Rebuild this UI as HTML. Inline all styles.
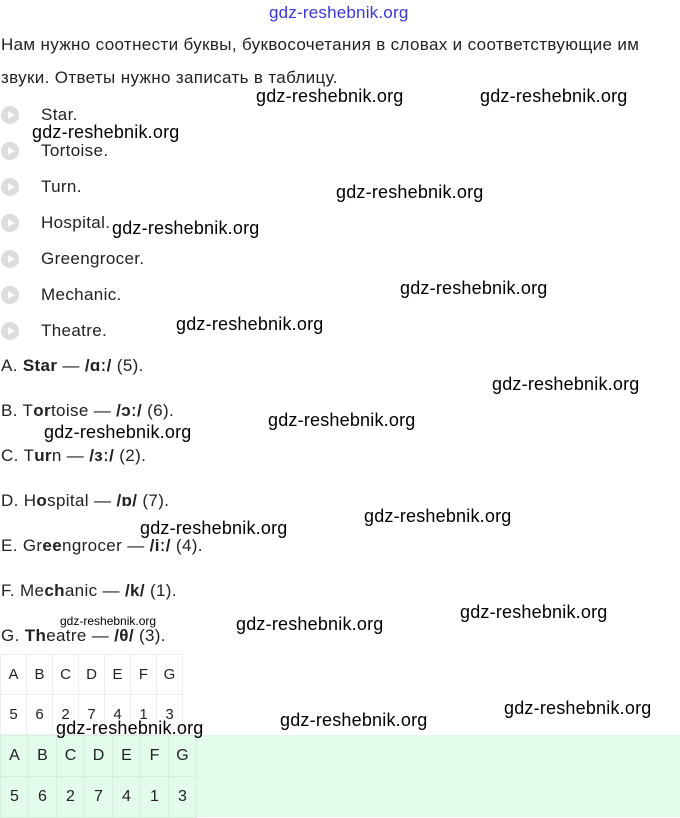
<!DOCTYPE html><html><head><meta charset="utf-8"><style>
body{margin:0;width:680px;height:817px;background:#fff;position:relative;overflow:hidden;font-family:"Liberation Sans",sans-serif;color:#222}
.t{position:absolute;font-size:17px;line-height:20px;white-space:nowrap;letter-spacing:0.35px}
.w{position:absolute;font-size:18px;line-height:20px;color:#000;white-space:nowrap;font-family:"Liberation Sans",sans-serif;letter-spacing:0.2px}
.b{position:absolute;left:1px;width:18px;height:18px;border-radius:50%;background:#ddd}
.b:after{content:"";position:absolute;left:7px;top:5px;border-left:7px solid #fff;border-top:4px solid transparent;border-bottom:4px solid transparent}
table{position:absolute;border-collapse:collapse;font-size:15px}
td{border:1px solid #eee;text-align:center;padding:0}
</style></head><body>
<div class="w" style="left:269px;top:3px;color:#3838d8;font-size:17px">gdz-reshebnik.org</div>
<div class="t" style="left:1px;top:35px">Нам нужно соотнести буквы, буквосочетания в словах и соответствующие им</div>
<div class="t" style="left:1px;top:68px">звуки. Ответы нужно записать в таблицу.</div>
<div class="b" style="top:106px"></div><div class="t" style="left:41px;top:105px">Star.</div>
<div class="b" style="top:142px"></div><div class="t" style="left:41px;top:141px">Tortoise.</div>
<div class="b" style="top:178px"></div><div class="t" style="left:41px;top:177px">Turn.</div>
<div class="b" style="top:214px"></div><div class="t" style="left:41px;top:213px">Hospital.</div>
<div class="b" style="top:250px"></div><div class="t" style="left:41px;top:249px">Greengrocer.</div>
<div class="b" style="top:286px"></div><div class="t" style="left:41px;top:285px">Mechanic.</div>
<div class="b" style="top:322px"></div><div class="t" style="left:41px;top:321px">Theatre.</div>
<div class="t" style="left:1px;top:356px">A. <b>Star</b> — <b>/ɑː/</b> (5).</div>
<div class="t" style="left:1px;top:401px">B. T<b>or</b>toise — <b>/ɔː/</b> (6).</div>
<div class="t" style="left:1px;top:446px">C. T<b>ur</b>n — <b>/ɜː/</b> (2).</div>
<div class="t" style="left:1px;top:491px">D. H<b>o</b>spital — <b>/ɒ/</b> (7).</div>
<div class="t" style="left:1px;top:536px">E. Gr<b>ee</b>ngrocer — <b>/iː/</b> (4).</div>
<div class="t" style="left:1px;top:581px">F. Me<b>ch</b>anic — <b>/k/</b> (1).</div>
<div class="t" style="left:1px;top:626px">G. <b>Th</b>eatre — <b>/θ/</b> (3).</div>
<table style="left:0;top:654px"><tr style="height:40px"><td style="width:25px">A</td><td style="width:25px">B</td><td style="width:25px">C</td><td style="width:25px">D</td><td style="width:25px">E</td><td style="width:25px">F</td><td style="width:25px">G</td></tr><tr style="height:40px"><td>5</td><td>6</td><td>2</td><td>7</td><td>4</td><td>1</td><td>3</td></tr></table>
<div style="position:absolute;left:0;top:735px;width:680px;height:82px;background:#e3fbea"></div>
<table style="left:0;top:735px;font-size:16px"><tr style="height:41px"><td style="width:27px;border-color:#d6eedc">A</td><td style="width:27px;border-color:#d6eedc">B</td><td style="width:27px;border-color:#d6eedc">C</td><td style="width:27px;border-color:#d6eedc">D</td><td style="width:27px;border-color:#d6eedc">E</td><td style="width:27px;border-color:#d6eedc">F</td><td style="width:27px;border-color:#d6eedc">G</td></tr><tr style="height:41px"><td style="border-color:#d6eedc">5</td><td style="border-color:#d6eedc">6</td><td style="border-color:#d6eedc">2</td><td style="border-color:#d6eedc">7</td><td style="border-color:#d6eedc">4</td><td style="border-color:#d6eedc">1</td><td style="border-color:#d6eedc">3</td></tr></table>
<div class="w" style="left:256px;top:86px">gdz-reshebnik.org</div>
<div class="w" style="left:480px;top:86px">gdz-reshebnik.org</div>
<div class="w" style="left:32px;top:122px">gdz-reshebnik.org</div>
<div class="w" style="left:336px;top:182px">gdz-reshebnik.org</div>
<div class="w" style="left:112px;top:218px">gdz-reshebnik.org</div>
<div class="w" style="left:400px;top:278px">gdz-reshebnik.org</div>
<div class="w" style="left:176px;top:314px">gdz-reshebnik.org</div>
<div class="w" style="left:492px;top:374px">gdz-reshebnik.org</div>
<div class="w" style="left:268px;top:410px">gdz-reshebnik.org</div>
<div class="w" style="left:44px;top:422px">gdz-reshebnik.org</div>
<div class="w" style="left:364px;top:506px">gdz-reshebnik.org</div>
<div class="w" style="left:140px;top:518px">gdz-reshebnik.org</div>
<div class="w" style="left:460px;top:602px">gdz-reshebnik.org</div>
<div class="w" style="left:236px;top:614px">gdz-reshebnik.org</div>
<div class="w" style="left:60px;top:615px;font-size:12px;line-height:12px;letter-spacing:0">gdz-reshebnik.org</div>
<div class="w" style="left:504px;top:698px">gdz-reshebnik.org</div>
<div class="w" style="left:280px;top:710px">gdz-reshebnik.org</div>
<div class="w" style="left:56px;top:718px">gdz-reshebnik.org</div>
</body></html>
